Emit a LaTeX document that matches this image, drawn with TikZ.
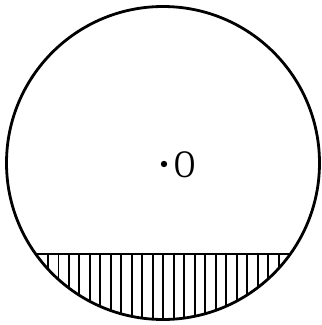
\documentclass[tikz,border=0pt]{standalone}
\usepackage{fontspec}
\setmainfont{Liberation Serif}
\begin{document}
\begin{tikzpicture}[x=1pt,y=-1pt,
  outline/.style={line width=2.8pt,black},
  chordline/.style={line width=2.4pt,black},
  hatchline/.style={line width=2pt,black},
  lbl/.style={inner sep=0pt,font=\fontsize{39}{39}\selectfont,xscale=0.75}]
\useasboundingbox (0,0) rectangle (322,325);
\coordinate (C) at (163,163);
\def\R{156.5}
\def\cy{254}
\pgfmathsetmacro{\hc}{sqrt((\R-(\cy-163))*(\R+(\cy-163)))}
% hatching
\begin{scope}
  \clip (C) circle (\R);
  \clip (0,\cy) rectangle (322,325);
  \foreach \x in {48,58.5,...,290}{
    \draw[hatchline] (\x,\cy) -- (\x,325);
  }
\end{scope}
% chord
\coordinate (A) at ({163-\hc},\cy);
\coordinate (B) at ({163+\hc},\cy);
\draw[chordline] (A) -- (B);
% circle
\draw[outline] (C) circle (\R);
% centre
\fill (C) ++(1,1) circle (3.2);
\node[lbl,anchor=west] (O) at (174.5,164.5) {O};
\end{tikzpicture}
\end{document}
